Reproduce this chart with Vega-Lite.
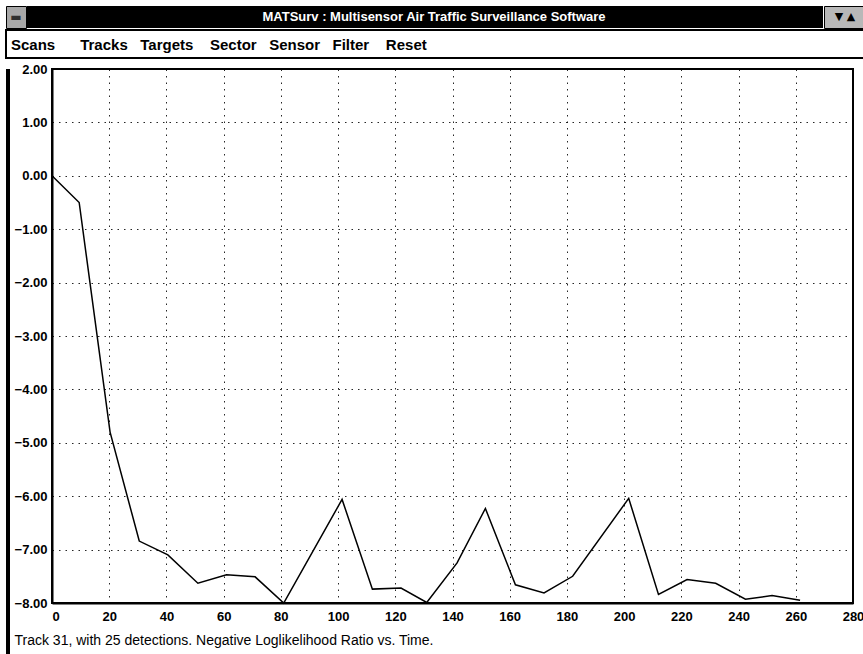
{
  "$schema": "https://vega.github.io/schema/vega-lite/v6.json",
  "padding": {"left": 5, "top": 5, "right": 0, "bottom": 0},
  "background": "white",
  "spacing": 0,
  "config": {
    "view": {"stroke": null},
    "font": "Liberation Sans"
  },
  "vconcat": [
    {
      "spacing": 0,
      "vconcat": [
        {
          "spacing": 0,
          "hconcat": [
            {
              "width": 20,
              "height": 22,
              "view": {"fill": "#a8a8a8", "stroke": "black", "strokeWidth": 1},
              "data": {"values": [{"g": "▬"}]},
              "mark": {"type": "text", "color": "#303030", "fontSize": 12, "baseline": "middle", "font": "DejaVu Sans"},
              "encoding": {"text": {"field": "g"}}
            },
            {
              "width": 796,
              "height": 22,
              "view": {"fill": "black", "stroke": null},
              "data": {"values": [{"label": "MATSurv : Multisensor Air Traffic Surveillance Software"}]},
              "mark": {"type": "text", "color": "white", "fontWeight": "bold", "fontSize": 13, "baseline": "middle", "align": "center", "dx": 9},
              "encoding": {"text": {"field": "label"}}
            },
            {
              "width": 42,
              "height": 22,
              "view": {"fill": "#b8b8b8", "stroke": "black", "strokeWidth": 1},
              "data": {"values": [{"g": "▼ ▲"}]},
              "mark": {"type": "text", "color": "black", "fontSize": 11, "baseline": "middle", "font": "DejaVu Sans"},
              "encoding": {"text": {"field": "g"}}
            }
          ]
        },
        {
          "width": 858,
          "height": 28,
          "view": {"fill": "white", "stroke": "black", "strokeWidth": 2},
          "data": {"values": [
            {"bar": "menu", "items": "Scans\u00a0\u00a0\u00a0\u00a0\u00a0\u00a0Tracks\u00a0\u00a0\u00a0Targets\u00a0\u00a0\u00a0\u00a0Sector\u00a0\u00a0\u00a0Sensor\u00a0\u00a0\u00a0Filter\u00a0\u00a0\u00a0\u00a0Reset"}
          ]},
          "mark": {"type": "text", "align": "left", "baseline": "middle", "fontSize": 15, "fontWeight": "bold", "color": "black", "dy": 1, "dx": 5},
          "encoding": {
            "x": {"field": "bar", "type": "nominal", "bandPosition": 0,
                  "scale": {"type": "band", "paddingInner": 0, "paddingOuter": 0},
                  "axis": null},
            "text": {"field": "items"}
          }
        }
      ]
    },
    {
      "spacing": 0,
      "hconcat": [
        {
          "width": 4,
          "height": 586,
          "view": {"fill": "black", "stroke": null},
          "data": {"values": [{"a": ""}]},
          "mark": {"type": "text"},
          "encoding": {"text": {"field": "a"}}
        },
        {
          "width": 801,
          "height": 534,
          "title": {"text": " ", "fontSize": 3, "offset": 0},
          "view": {"stroke": "black", "strokeWidth": 2, "fill": "white"},
          "data": {"values": [
            {"t": 0, "v": 0},
            {"t": 9.5, "v": -0.5},
            {"t": 20.3, "v": -4.8},
            {"t": 30.5, "v": -6.84},
            {"t": 40.5, "v": -7.1},
            {"t": 51, "v": -7.63},
            {"t": 61, "v": -7.47},
            {"t": 71, "v": -7.51},
            {"t": 81, "v": -8.0},
            {"t": 101.4, "v": -6.06},
            {"t": 112, "v": -7.74},
            {"t": 122, "v": -7.72},
            {"t": 131, "v": -7.99},
            {"t": 141.6, "v": -7.25},
            {"t": 151.5, "v": -6.23},
            {"t": 162, "v": -7.66},
            {"t": 172, "v": -7.81},
            {"t": 182, "v": -7.5},
            {"t": 201.6, "v": -6.04},
            {"t": 212, "v": -7.84},
            {"t": 222, "v": -7.56},
            {"t": 232, "v": -7.63},
            {"t": 242.4, "v": -7.93},
            {"t": 251.7, "v": -7.86},
            {"t": 261.5, "v": -7.95}
          ]},
          "mark": {"type": "line", "color": "black", "strokeWidth": 1.5},
          "encoding": {
            "x": {
              "field": "t", "type": "quantitative",
              "scale": {"domain": [0, 280], "nice": false, "zero": false},
              "axis": {
                "values": [0, 20, 40, 60, 80, 100, 120, 140, 160, 180, 200, 220, 240, 260, 280],
                "grid": true, "gridColor": "black", "gridDash": [1.5, 5], "gridOpacity": 0.85, "gridWidth": 1,
                "ticks": false, "tickSize": 0,
                "domainColor": "black", "domainWidth": 2,
                "labelFont": "Liberation Sans", "labelFontSize": 13, "labelFontWeight": "bold", "labelColor": "black",
                "labelPadding": 7, "labelFlush": false,
                "labelAlign": {"condition": {"test": "datum.value === 0", "value": "left"}, "value": "center"},
                "title": "Track 31, with 25 detections. Negative Loglikelihood Ratio vs. Time.",
                "titleFont": "Liberation Sans", "titleFontSize": 14, "titleFontWeight": "normal", "titleColor": "black",
                "titleAnchor": "start", "titleAlign": "left", "titleBaseline": "middle",
                "titleX": -38, "titleY": 37
              }
            },
            "y": {
              "field": "v", "type": "quantitative",
              "scale": {"domain": [-8, 2], "nice": false, "zero": false},
              "axis": {
                "values": [-8, -7, -6, -5, -4, -3, -2, -1, 0, 1, 2],
                "format": ".2f",
                "grid": true, "gridColor": "black", "gridDash": [1.5, 5], "gridOpacity": 0.85, "gridWidth": 1,
                "ticks": false, "tickSize": 0,
                "domainColor": "black", "domainWidth": 2,
                "labelFont": "Liberation Sans", "labelFontSize": 13, "labelFontWeight": "bold", "labelColor": "black",
                "labelPadding": 5,
                "minExtent": 41, "maxExtent": 41,
                "title": null
              }
            }
          }
        }
      ]
    },
    {
      "width": 858,
      "height": 2,
      "view": {"fill": "black", "stroke": null},
      "data": {"values": [{"a": ""}]},
      "mark": {"type": "text"},
      "encoding": {"text": {"field": "a"}}
    }
  ]
}
